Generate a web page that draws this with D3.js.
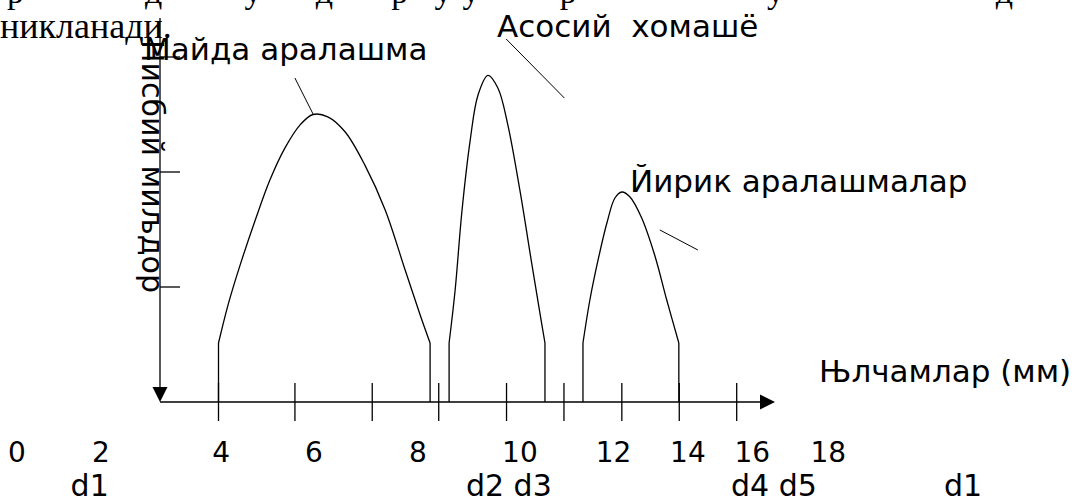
<!DOCTYPE html>
<html>
<head>
<meta charset="utf-8">
<script src="https://cdn.jsdelivr.net/npm/d3@7"></script>
<style>
  html, body { margin: 0; padding: 0; background: #fff; }
  svg { display: block; }
  .sans { font-family: "DejaVu Sans", sans-serif; fill: #000; }
  .serif { font-family: "Liberation Serif", "Times New Roman", serif; fill: #000; }
</style>
</head>
<body>
<svg id="chart" width="1081" height="497"></svg>
<script>
// ---- data (diagram units: x in "mm", y in relative amount) ----
const xTicks = [4, 5.77, 7.56, 9.10, 10.67, 12.0, 13.34, 14.67, 16.0];
const yTicks = [1, 2, 3];
const xLabels = ["0", "2", "4", "6", "8", "10", "12", "14", "16", "18"];
const xLabelAt = [-0.667, 1.279, 4.06, 6.21, 8.62, 10.98, 13.15, 14.87, 16.36, 18.12];
const dLabels = ["d1", "d2 d3", "d4 d5", "d1"];
const dLabelAt = [0.575, 9.73, 15.87, 20.8];

// fine fraction peak
const fineX = [4.00, 4.22, 4.50, 4.85, 5.19, 5.54, 5.89, 6.19, 6.53, 6.93, 7.39, 7.86, 8.32, 8.67, 8.90];
const fineY = [0.513, 0.843, 1.19, 1.58, 1.93, 2.21, 2.41, 2.50, 2.48, 2.35, 2.06, 1.67, 1.15, 0.757, 0.513];
// main raw material peak
const mainX = [9.34, 9.48, 9.64, 9.83, 10.01, 10.24, 10.47, 10.70, 10.98, 11.26, 11.45, 11.56];
const mainY = [0.513, 0.974, 1.67, 2.28, 2.67, 2.84, 2.73, 2.41, 1.84, 1.19, 0.757, 0.513];
// coarse fraction peak
const coarseX = [12.44, 12.60, 12.79, 13.00, 13.18, 13.34, 13.53, 13.80, 14.10, 14.38, 14.66];
const coarseY = [0.513, 0.887, 1.235, 1.565, 1.774, 1.826, 1.783, 1.60, 1.278, 0.887, 0.513];

const peakNames = ["Майда аралашма", "Асосий  хомашё", "Йирик аралашмалар"];
const leaderFrom = [[5.77, 2.817], [10.66, 3.157], [14.22, 1.496]];
const leaderTo = [[6.19, 2.504], [12.01, 2.643], [15.10, 1.322]];

const xTitle = "Њлчамлар (мм)";
const yTitle = "Нисбий миљдор";
const topText = "никланади.";
const topFragments = ["р", "д", "у", "д", "р", "у", "у", "р", "у", "д"];
const topFragmentAt = [-0.9, 2.3, 4.6, 6.25, 8.0, 9.0, 9.65, 11.9, 16.7, 22.0];

// ---- scales ----
const svg = d3.select("#chart");
const x = d3.scaleLinear().domain([4, 16]).range([218.5, 736.7]);
const y = d3.scaleLinear().domain([0, 3]).range([402, 57]);
const xOrigin = x.invert(160);
const xEnd = x.invert(775);
const yTop = y.invert(18);

const g = svg.append("g");
const stroke = "#000";
const sw = 1.3;

// top serif text fragments (previous line partly cut)
g.selectAll("text.frag").data(topFragments).join("text")
  .attr("class", "serif")
  .attr("x", (d, i) => x(topFragmentAt[i]))
  .attr("y", 3)
  .attr("font-size", 34)
  .text(d => d);

g.append("text").attr("class", "serif")
  .attr("x", 0).attr("y", 38).attr("font-size", 36)
  .text(topText);

// y axis line
g.append("line")
  .attr("x1", x(xOrigin)).attr("x2", x(xOrigin))
  .attr("y1", y(yTop)).attr("y2", y(0) - 14)
  .attr("stroke", stroke).attr("stroke-width", sw);
// y arrow (down)
g.append("path")
  .attr("d", `M${x(xOrigin) - 7.5},${y(0) - 15} L${x(xOrigin) + 7.5},${y(0) - 15} L${x(xOrigin)},${y(0)} Z`)
  .attr("fill", stroke);
// y ticks
g.selectAll("line.yt").data(yTicks).join("line")
  .attr("x1", x(xOrigin)).attr("x2", x(xOrigin) + 20)
  .attr("y1", d => y(d)).attr("y2", d => y(d))
  .attr("stroke", stroke).attr("stroke-width", sw);

// x axis line
g.append("line")
  .attr("x1", x(xOrigin)).attr("x2", x(xEnd) - 14)
  .attr("y1", y(0)).attr("y2", y(0))
  .attr("stroke", stroke).attr("stroke-width", sw);
g.append("path")
  .attr("d", `M${x(xEnd) - 15},${y(0) - 7.5} L${x(xEnd) - 15},${y(0) + 7.5} L${x(xEnd)},${y(0)} Z`)
  .attr("fill", stroke);
// x ticks
g.selectAll("line.xt").data(xTicks).join("line")
  .attr("x1", d => x(d)).attr("x2", d => x(d))
  .attr("y1", y(0) - 19).attr("y2", y(0) + 19)
  .attr("stroke", stroke).attr("stroke-width", sw);

// peaks
const line = d3.line().x(d => x(d[0])).y(d => y(d[1])).curve(d3.curveCatmullRom.alpha(0.5));
[[fineX, fineY], [mainX, mainY], [coarseX, coarseY]].forEach(([xs, ys]) => {
  const pts = xs.map((v, i) => [v, ys[i]]);
  g.append("path").attr("d", line(pts))
    .attr("fill", "none").attr("stroke", stroke).attr("stroke-width", sw);
  // vertical edges down to the axis
  [pts[0], pts[pts.length - 1]].forEach(p => {
    g.append("line")
      .attr("x1", x(p[0])).attr("x2", x(p[0]))
      .attr("y1", y(p[1])).attr("y2", y(0))
      .attr("stroke", stroke).attr("stroke-width", sw);
  });
});

// leader lines
leaderFrom.forEach((f, i) => {
  g.append("line")
    .attr("x1", x(f[0])).attr("y1", y(f[1]))
    .attr("x2", x(leaderTo[i][0])).attr("y2", y(leaderTo[i][1]))
    .attr("stroke", stroke).attr("stroke-width", 1);
});

// peak names
const namePos = [[144, 60], [497, 37], [630, 192]];
peakNames.forEach((n, i) => {
  g.append("text").attr("class", "sans")
    .attr("x", namePos[i][0]).attr("y", namePos[i][1])
    .attr("font-size", 31)
    .attr("xml:space", "preserve")
    .style("white-space", "pre")
    .text(n);
});

// y title (rotated, reading downward)
g.append("text").attr("class", "sans")
  .attr("transform", "translate(142,40) rotate(90)")
  .attr("font-size", 30)
  .text(yTitle);

// x title
g.append("text").attr("class", "sans")
  .attr("x", 819).attr("y", 382).attr("font-size", 31)
  .text(xTitle);

// x tick labels
g.selectAll("text.xl").data(xLabels).join("text")
  .attr("class", "sans")
  .attr("x", (d, i) => x(xLabelAt[i]))
  .attr("y", 462)
  .attr("text-anchor", "middle")
  .attr("font-size", 28)
  .text(d => d);

// d labels
g.selectAll("text.dl").data(dLabels).join("text")
  .attr("class", "sans")
  .attr("x", (d, i) => x(dLabelAt[i]))
  .attr("y", 496)
  .attr("font-size", 30)
  .text(d => d);
</script>
</body>
</html>
